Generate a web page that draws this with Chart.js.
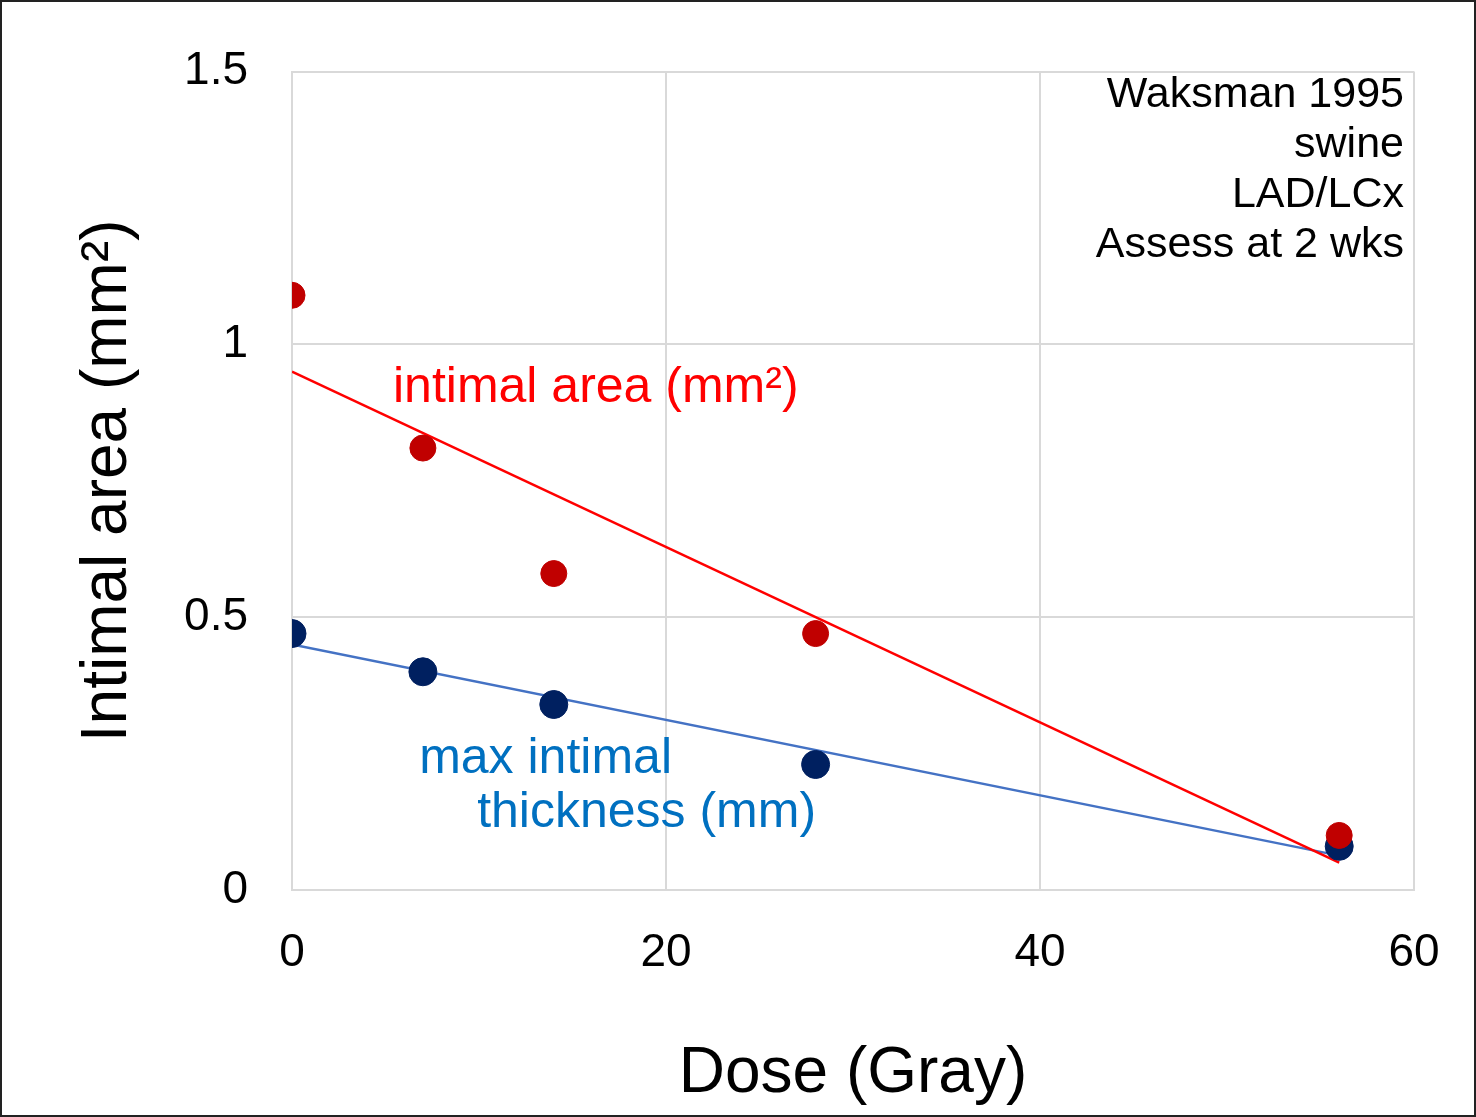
<!DOCTYPE html>
<html><head><meta charset="utf-8">
<script src="https://cdn.jsdelivr.net/npm/chart.js@4"></script>
<style>html,body{margin:0;padding:0;background:#fff}#w{width:1476px;height:1117px}</style>
</head><body><div id="w"><canvas id="c" width="1476" height="1117"></canvas></div>
<script>
const doses = [0, 7, 14, 28, 56];
const intimalArea = [1.09, 0.81, 0.58, 0.47, 0.10];
const maxThickness = [0.47, 0.40, 0.34, 0.23, 0.08];
const trendX = [0, 56];
const areaTrend = [0.95, 0.05];
const thickTrend = [0.45, 0.063];
const yTicks = [0, 0.5, 1, 1.5];
const xTicks = [0, 20, 40, 60];
const pts = (xs, ys) => xs.map((x, i) => ({x, y: ys[i]}));
const F = '"Liberation Sans", Arial, sans-serif';

const textPlugin = {
  id: 'txt',
  afterDraw(ch) {
    const c = ch.ctx, xs = ch.scales.x, ys = ch.scales.y;
    c.save();
    c.font = '43px ' + F; c.fillStyle = '#000'; c.textAlign = 'right'; c.textBaseline = 'middle';
    ['Waksman 1995', 'swine', 'LAD/LCx', 'Assess at 2 wks'].forEach((t, i) => c.fillText(t, xs.right - 10, ys.top + 24 + i * 50));
    c.textAlign = 'left';
    c.font = '50px ' + F; c.fillStyle = '#ff0000';
    c.fillText('intimal area (mm²)', xs.getPixelForValue(5.4), ys.getPixelForValue(0.92));
    c.fillStyle = '#0070c0';
    c.fillText('max intimal', xs.getPixelForValue(6.8), ys.getPixelForValue(0.24));
    c.fillText('thickness (mm)', xs.getPixelForValue(9.9), ys.getPixelForValue(0.14));
    c.strokeStyle = '#222'; c.lineWidth = 2;
    c.strokeRect(1, 1, ch.width - 2, ch.height - 2);
    c.restore();
  }
};

new Chart(document.getElementById('c'), {
  type: 'scatter',
  data: { datasets: [
    { type: 'line', data: pts(trendX, areaTrend), borderColor: '#ff0000', borderWidth: 2.5, pointRadius: 0, fill: false, order: 2 },
    { type: 'line', data: pts(trendX, thickTrend), borderColor: '#4472c4', borderWidth: 2.5, pointRadius: 0, fill: false, order: 2 },
    { data: pts(doses, maxThickness), backgroundColor: '#002060', borderColor: '#002060', pointRadius: 14, order: 1 },
    { data: pts(doses, intimalArea), backgroundColor: '#c00000', borderColor: '#c00000', pointRadius: 13, order: 0 }
  ]},
  options: {
    responsive: false, animation: false, devicePixelRatio: 1,
    layout: { padding: { top: 30, right: 62, left: 0, bottom: 0 } },
    plugins: { legend: { display: false }, tooltip: { enabled: false } },
    scales: {
      x: { type: 'linear', min: 0, max: 60,
        afterBuildTicks: s => { s.ticks = xTicks.map(v => ({value: v})); },
        afterFit: s => { s.height = 227; },
        grid: { color: '#d9d9d9', lineWidth: 2, drawTicks: false },
        border: { color: '#d9d9d9', width: 2 },
        ticks: { font: { size: 46, family: F }, color: '#000', padding: 36 },
        title: { display: true, text: 'Dose (Gray)', font: { size: 64, family: F }, color: '#000', padding: { top: 20 } } },
      y: { min: 0, max: 1.5,
        afterBuildTicks: s => { s.ticks = yTicks.map(v => ({value: v})); },
        afterFit: s => { s.width = 292; },
        grid: { color: '#d9d9d9', lineWidth: 2, drawTicks: false },
        border: { color: '#d9d9d9', width: 2 },
        ticks: { font: { size: 46, family: F }, color: '#000', padding: 44, callback: v => String(v) },
        title: { display: true, text: 'Intimal area (mm²)', font: { size: 64, family: F }, color: '#000', padding: { top: 70, bottom: 0 } } }
    }
  },
  plugins: [textPlugin]
});
</script></body></html>
